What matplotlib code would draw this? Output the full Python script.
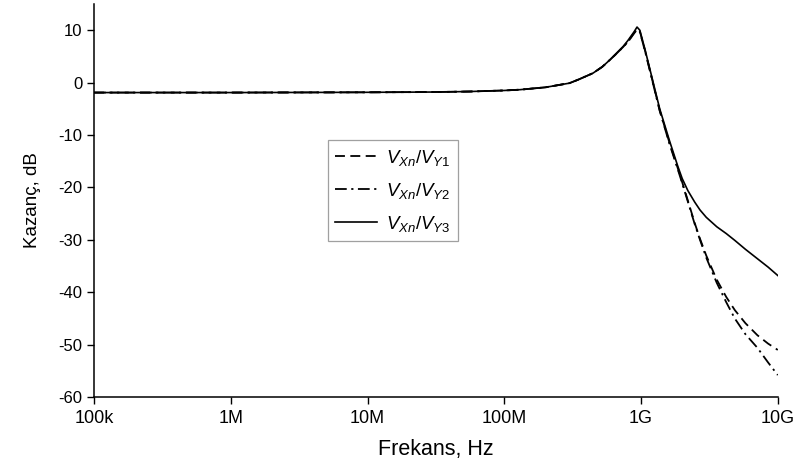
import matplotlib
matplotlib.use("Agg")
import matplotlib.pyplot as plt

plt.rcParams['font.family'] = ['Liberation Sans', 'DejaVu Sans']
plt.rcParams['axes.unicode_minus'] = False
plt.rcParams['mathtext.fontset'] = 'custom'
plt.rcParams['mathtext.it'] = 'Liberation Sans:italic'
plt.rcParams['mathtext.rm'] = 'Liberation Sans'

# Frequency (Hz) and gain (dB) of the three transfer functions
freq = [1e5, 1e6, 1e7, 3e7, 5.6e7, 1e8, 1.3e8, 2e8, 3e8, 3.5e8, 4.45e8, 5.2e8,
        5.9e8, 6.6e8, 7.4e8, 8e8, 8.9e8, 9.35e8, 9.8e8, 1.07e9, 1.16e9, 1.37e9,
        1.62e9, 1.86e9, 2.0e9, 2.2e9, 2.47e9, 2.7e9, 3.0e9, 3.58e9, 4.2e9,
        4.85e9, 5.8e9, 7.1e9, 8.5e9, 1e10]

gain_y1 = [-1.9, -1.9, -1.85, -1.8, -1.7, -1.5, -1.35, -0.9, -0.1, 0.6, 1.8, 3.0,
           4.3, 5.5, 6.8, 7.8, 9.5, 10.3, 9.8, 6.1, 2.4, -5.3,
           -11.6, -16.4, -19.0, -22.5, -26.8, -29.8, -33.0, -37.6, -40.9,
           -43.4, -45.9, -48.2, -49.8, -51.0]

gain_y2 = [-1.9, -1.9, -1.85, -1.8, -1.7, -1.5, -1.35, -0.9, -0.1, 0.6, 1.8, 3.0,
           4.3, 5.5, 6.8, 7.7, 9.4, 10.1, 9.7, 6.0, 2.3, -5.4,
           -11.8, -16.6, -19.2, -22.7, -27.0, -30.0, -33.4, -38.2, -41.9,
           -45.0, -48.0, -50.6, -53.4, -55.8]

gain_y3 = [-1.9, -1.9, -1.85, -1.8, -1.7, -1.5, -1.35, -0.9, -0.1, 0.6, 1.8, 3.0,
           4.3, 5.6, 6.9, 8.0, 9.7, 10.6, 10.0, 6.3, 2.6, -5.0,
           -11.2, -16.0, -18.3, -20.6, -22.8, -24.3, -25.7, -27.5, -28.8,
           -30.1, -31.8, -33.6, -35.2, -36.8]

labels = [r'$V_{Xn}/V_{Y1}$', r'$V_{Xn}/V_{Y2}$', r'$V_{Xn}/V_{Y3}$']

xticks = [1e5, 1e6, 1e7, 1e8, 1e9, 1e10]
xticklabels = ['100k', '1M', '10M', '100M', '1G', '10G']
yticks = [-60, -50, -40, -30, -20, -10, 0, 10]

fig = plt.figure(figsize=(8.01, 4.75), dpi=100)
ax = fig.add_axes([0.1174, 0.164, 0.8536, 0.8276])

ax.plot(freq, gain_y1, color='black', lw=1.3, linestyle=(0, (5.5, 3.0)), label=labels[0])
ax.plot(freq, gain_y2, color='black', lw=1.3, linestyle=(0, (6.5, 2.5, 1.2, 2.5)), label=labels[1])
ax.plot(freq, gain_y3, color='black', lw=1.2, linestyle='-', label=labels[2])

ax.set_xscale('log')
ax.set_xlim(1e5, 1e10)
ax.set_ylim(-60, 15)
ax.set_xticks(xticks)
ax.set_xticklabels(xticklabels, fontsize=13)
ax.xaxis.set_minor_locator(matplotlib.ticker.NullLocator())
ax.set_yticks(yticks)

for side in ('top', 'right'):
    ax.spines[side].set_visible(False)
for side in ('left', 'bottom'):
    ax.spines[side].set_linewidth(1.1)

ax.tick_params(axis='both', direction='out', length=5, width=1.0, colors='black')
ax.tick_params(axis='y', labelsize=12)
ax.tick_params(axis='x', pad=4)

ax.set_xlabel('Frekans, Hz', fontsize=15.5, labelpad=9)
ax.set_ylabel('Kazanç, dB', fontsize=13.5, labelpad=12)

leg = ax.legend(loc='upper left', bbox_to_anchor=(0.342, 0.654), fontsize=13.5,
                frameon=True, fancybox=False, edgecolor='#888888',
                handlelength=2.2, handletextpad=0.5, borderpad=0.4,
                labelspacing=0.7, borderaxespad=0)
leg.get_frame().set_linewidth(0.9)

fig.savefig('out.png', dpi=100)
